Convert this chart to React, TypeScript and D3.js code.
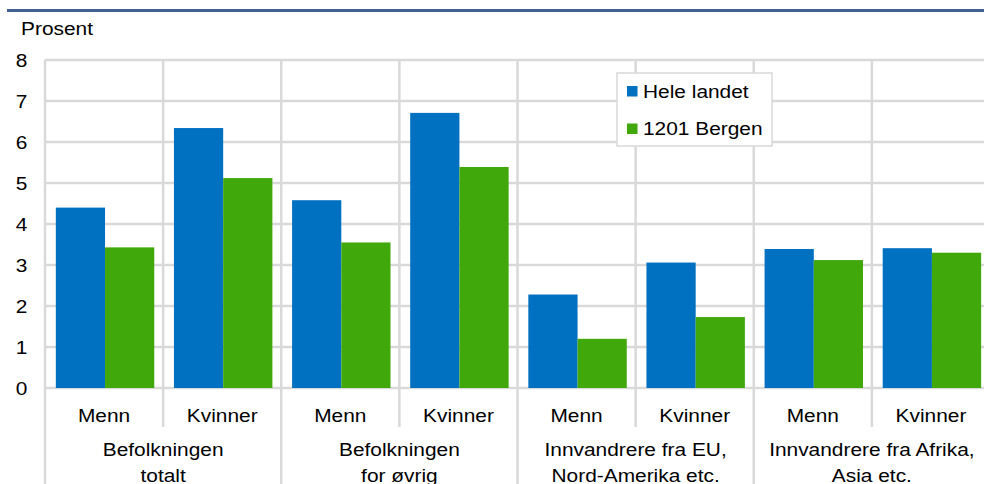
import React from "react";
import * as d3 from "d3";

// categories (sub / group)
const subLabels = ["Menn", "Kvinner", "Menn", "Kvinner", "Menn", "Kvinner", "Menn", "Kvinner"];
const groupLabels = [
  ["Befolkningen", "totalt"],
  ["Befolkningen", "for øvrig"],
  ["Innvandrere fra EU,", "Nord-Amerika etc."],
  ["Innvandrere fra Afrika,", "Asia etc."],
];
const seriesNames = ["Hele landet", "1201 Bergen"];
const heleLandet = [4.4, 6.34, 4.58, 6.71, 2.28, 3.06, 3.39, 3.41];
const bergen = [3.43, 5.12, 3.55, 5.39, 1.2, 1.73, 3.12, 3.3];
const yTicks = [0, 1, 2, 3, 4, 5, 6, 7, 8];

const colors = ["#0070c0", "#40a80b"];
const gridColor = "#d9d9d9";
const font = "'Liberation Sans', Arial, sans-serif";
const sx = 1.13; // text in the source is a bit wide

function T({ x, y, anchor = "middle", children }: any) {
  return (
    <text
      transform={`translate(${x},${y}) scale(${sx},1)`}
      textAnchor={anchor}
      fontFamily={font}
      fontSize={18.5}
      fill="#000"
    >
      {children}
    </text>
  );
}

export default function App() {
  const width = 984;
  const height = 484;
  const left = 45;
  const right = 990;
  const top = 60;
  const bottom = 388;

  const x0 = d3
    .scaleBand<number>()
    .domain(subLabels.map((_, i) => i))
    .range([left, right])
    .padding(0);
  const x1 = d3
    .scaleBand<number>()
    .domain([0, 1])
    .range([0, x0.bandwidth()])
    .paddingInner(0)
    .paddingOuter(0.2)
    .align(0.55);
  const y = d3.scaleLinear().domain([0, 8]).range([bottom, top]);

  const series = [heleLandet, bergen];
  const step = x0.bandwidth();

  return (
    <svg
      width={width}
      height={height}
      style={{ display: "block", position: "absolute", left: 0, top: 0 }}
    >
      <rect width={width} height={height} fill="#fff" />
      <line x1={7} x2={984} y1={10.5} y2={10.5} stroke="#42608f" strokeWidth={3} />
      <T x={21} y={35} anchor="start">Prosent</T>

      {/* horizontal grid */}
      {yTicks.map((t) => (
        <line
          key={"h" + t}
          x1={left}
          x2={width}
          y1={y(t)}
          y2={y(t)}
          stroke={gridColor}
          strokeWidth={2.5}
        />
      ))}
      {/* vertical grid: group boundaries go to bottom, inner ones stop */}
      {d3.range(9).map((i) => {
        const xv = left + i * step;
        const long = i % 2 === 0;
        return (
          <line
            key={"v" + i}
            x1={xv}
            x2={xv}
            y1={top}
            y2={long ? height : 427}
            stroke={gridColor}
            strokeWidth={2.5}
          />
        );
      })}

      {yTicks.map((t) => (
        <T key={"t" + t} x={21.5} y={y(t) + 7.3}>
          {t}
        </T>
      ))}

      {series.map((vals, s) =>
        vals.map((v, i) => (
          <rect
            key={`b${s}-${i}`}
            x={(x0(i) as number) + (x1(s) as number)}
            y={y(v)}
            width={x1.bandwidth()}
            height={y(0) - y(v)}
            fill={colors[s]}
          />
        ))
      )}

      {subLabels.map((l, i) => (
        <T key={"s" + i} x={(x0(i) as number) + step / 2} y={421.5}>
          {l}
        </T>
      ))}
      {groupLabels.map((lines, g) => (
        <g key={"g" + g}>
          <T x={left + (g * 2 + 1) * step} y={456}>
            {lines[0]}
          </T>
          <T x={left + (g * 2 + 1) * step} y={482}>
            {lines[1]}
          </T>
        </g>
      ))}

      {/* legend */}
      <rect x={617} y={73} width={155} height={73} fill="#fff" stroke={gridColor} strokeWidth={1.5} />
      {seriesNames.map((n, s) => (
        <g key={"l" + s}>
          <rect x={627} y={86 + s * 37.5} width={10.5} height={10.5} fill={colors[s]} />
          <T x={643} y={97.5 + s * 37} anchor="start">
            {n}
          </T>
        </g>
      ))}
    </svg>
  );
}
